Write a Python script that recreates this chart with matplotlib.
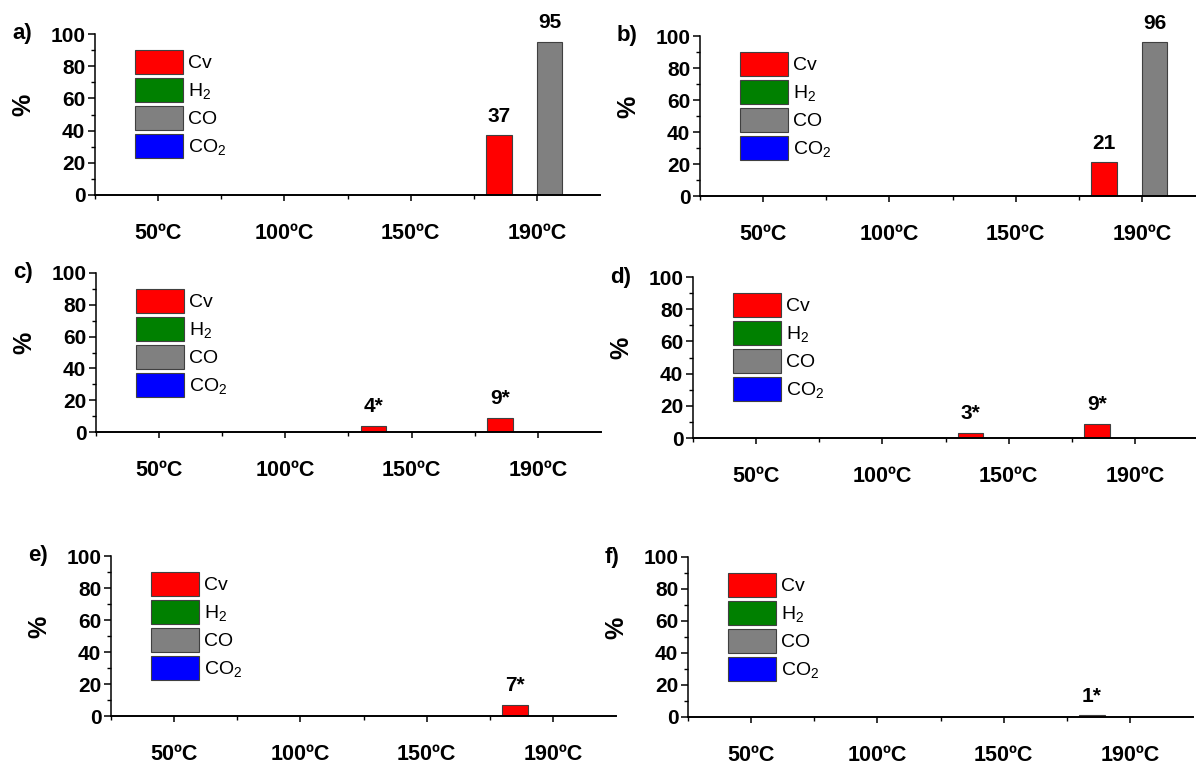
import matplotlib
matplotlib.use("Agg")
import matplotlib.pyplot as plt
from matplotlib.ticker import MultipleLocator, FixedLocator
from matplotlib.patches import Patch

plt.rcParams['font.family'] = ['Liberation Sans', 'DejaVu Sans']
plt.rcParams['mathtext.fontset'] = 'custom'
plt.rcParams['mathtext.rm'] = 'Liberation Sans'
plt.rcParams['mathtext.it'] = 'Liberation Sans'
plt.rcParams['mathtext.bf'] = 'Liberation Sans:bold'

temps = ['50ºC', '100ºC', '150ºC', '190ºC']
series = ['Cv', 'H$_2$', 'CO', 'CO$_2$']
colors = ['#ff0000', '#008000', '#808080', '#0000ff']

# values per panel: Cv, H2, CO, CO2 at each temperature
a_cv = [0, 0, 0, 37]
a_h2 = [0, 0, 0, 0]
a_co = [0, 0, 0, 95]
a_co2 = [0, 0, 0, 0]

b_cv = [0, 0, 0, 21]
b_h2 = [0, 0, 0, 0]
b_co = [0, 0, 0, 96]
b_co2 = [0, 0, 0, 0]

c_cv = [0, 0, 4, 9]
c_h2 = [0, 0, 0, 0]
c_co = [0, 0, 0, 0]
c_co2 = [0, 0, 0, 0]

d_cv = [0, 0, 3, 9]
d_h2 = [0, 0, 0, 0]
d_co = [0, 0, 0, 0]
d_co2 = [0, 0, 0, 0]

e_cv = [0, 0, 0, 7]
e_h2 = [0, 0, 0, 0]
e_co = [0, 0, 0, 0]
e_co2 = [0, 0, 0, 0]

f_cv = [0, 0, 0, 1]
f_h2 = [0, 0, 0, 0]
f_co = [0, 0, 0, 0]
f_co2 = [0, 0, 0, 0]

panels = [
    ('a)', [a_cv, a_h2, a_co, a_co2], '', (95, 34, 505, 161)),
    ('b)', [b_cv, b_h2, b_co, b_co2], '', (700, 36, 505, 160)),
    ('c)', [c_cv, c_h2, c_co, c_co2], '*', (96, 273, 505, 159)),
    ('d)', [d_cv, d_h2, d_co, d_co2], '*', (693, 277, 505, 161)),
    ('e)', [e_cv, e_h2, e_co, e_co2], '*', (111, 556, 505, 160)),
    ('f)', [f_cv, f_h2, f_co, f_co2], '*', (688, 557, 505, 160)),
]

W, H = 1196, 767
fig = plt.figure(figsize=(W / 100, H / 100), dpi=100)

x = list(range(1, len(temps) + 1))
offsets = [-0.3, -0.1, 0.1, 0.3]
bw = 0.2

for name, vals, star, (left, top, w, h) in panels:
    ax = fig.add_axes([left / W, 1 - (top + h) / H, w / W, h / H])
    for k in range(4):
        xs = [xi + offsets[k] for xi in x]
        ax.bar(xs, vals[k], width=bw, color=colors[k], edgecolor='#404040', linewidth=0.8, zorder=2)
        for xi, v in zip(xs, vals[k]):
            if v > 0:
                ax.annotate(f'{v}{star}', (xi, v), xytext=(0, 7), textcoords='offset points',
                            ha='center', va='bottom', fontsize=15, fontweight='bold')
    ax.set_xlim(0.5, 4.5)
    ax.set_ylim(0, 100)
    ax.set_xticks(x)
    ax.set_xticklabels(temps, fontsize=15.5, fontweight='bold')
    ax.xaxis.set_minor_locator(FixedLocator([0.5, 1.5, 2.5, 3.5]))
    ax.yaxis.set_major_locator(MultipleLocator(20))
    ax.yaxis.set_minor_locator(MultipleLocator(10))
    for lab in ax.get_yticklabels():
        lab.set_fontweight('bold')
        lab.set_fontsize(15)
    ax.tick_params(axis='x', which='major', direction='out', length=4, width=1.1, pad=16)
    ax.tick_params(axis='x', which='minor', direction='out', length=3, width=1.0)
    ax.tick_params(axis='y', which='major', direction='out', length=5, width=1.1, pad=2)
    ax.tick_params(axis='y', which='minor', direction='out', length=3, width=1.0)
    ax.spines['top'].set_visible(False)
    ax.spines['right'].set_visible(False)
    ax.spines['left'].set_linewidth(1.1)
    ax.spines['bottom'].set_linewidth(1.4)
    ax.set_ylabel('%', fontsize=18, fontweight='bold')
    ax.yaxis.set_label_coords(-60 / w, 0.56)
    ax.annotate(name, (0, 1), xycoords='axes fraction', xytext=(-83 * 0.72, 0),
                textcoords='offset points', ha='left', va='center', fontsize=16, fontweight='bold')

    handles = [Patch(facecolor=c, edgecolor='#404040', linewidth=0.8) for c in colors]
    ax.legend(handles, series, loc='upper left', bbox_to_anchor=(40 / w, 1 - 16 / h),
              frameon=False, fontsize=14, borderpad=0, borderaxespad=0,
              handlelength=2.45, handleheight=1.5, labelspacing=0.22, handletextpad=0.3)

fig.savefig('out.png', dpi=100)
